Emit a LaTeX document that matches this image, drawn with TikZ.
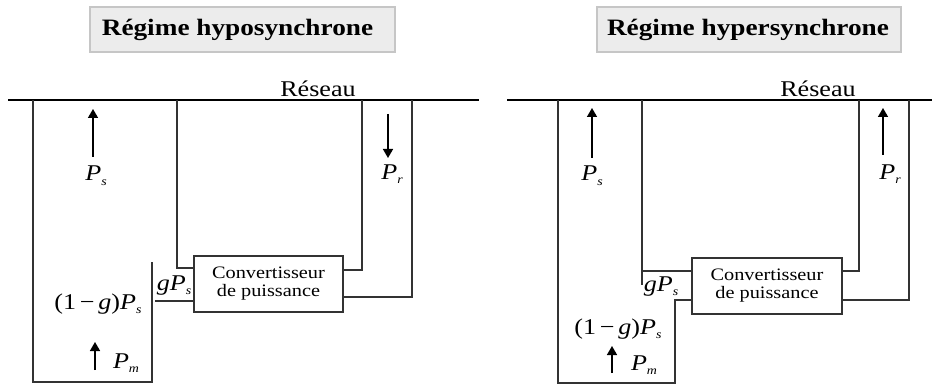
\documentclass[tikz,border=0pt]{standalone}
\usepackage{fontspec}
\setmainfont{Liberation Serif}[FakeStretch=1.16]
\usetikzlibrary{arrows.meta}
\newcommand\psub[1]{\raisebox{-0.45ex}{\fontsize{12}{12}\selectfont\itshape #1}}
\tikzset{
 wire/.style={line width=1.6pt, draw=black!80},
 gridline/.style={line width=1.8pt, draw=black},
 flow/.style={line width=1.5pt, draw=black, -{Triangle[width=10pt,length=9pt]}},
 titlebox/.style={draw=gray!45, line width=1.2pt, fill=gray!15, minimum width=305pt, minimum height=45pt, inner sep=0pt},
 titletext/.style={inner sep=0pt, font=\fontsize{23.5}{26}\selectfont\bfseries},
 conv/.style={draw=black!80, line width=1.6pt, minimum width=149pt, minimum height=56pt, inner sep=0pt, align=center, font=\fontsize{17.5}{18}\selectfont},
 lbl/.style={anchor=base, inner sep=0pt, font=\fontsize{22.5}{24}\selectfont},
 netlbl/.style={anchor=base, inner sep=0pt, font=\fontsize{22.5}{24}\selectfont}
}
\begin{document}
\begin{tikzpicture}[x=1pt,y=-1pt]
\useasboundingbox (0,0) rectangle (932,385);

% ================= LEFT: hyposynchrone =================
\node[titlebox] (tb1) at (242.5,29.5) {};
\node[titletext] (tt1) at (237.5,30) {Régime hyposynchrone};
\node[netlbl] (res1) at (318,97) {Réseau};
\coordinate (g1a) at (8,100);
\coordinate (g1b) at (479,100);
\draw[gridline] (g1a) -- (g1b);

\node[conv] (c1) at (268.5,284) {Convertisseur\\de puissance};

\coordinate (s1top) at (33,100);
\coordinate (s1bot) at (33,382);
\coordinate (m1bot) at (152,382);
\coordinate (m1top) at (152,262);
\draw[wire] (s1top) -- (s1bot) -- (m1bot) -- (m1top);

\coordinate (a1top) at (177,100);
\coordinate (a1lvl) at (0,268);
\draw[wire] (a1top) |- (c1.west |- a1lvl);

\coordinate (b1top) at (362,100);
\coordinate (b1lvl) at (0,270);
\draw[wire] (b1top) |- (c1.east |- b1lvl);

\coordinate (d1top) at (412,100);
\coordinate (d1lvl) at (0,297);
\draw[wire] (d1top) |- (c1.east |- d1lvl);

\coordinate (e1) at (155,301);
\draw[wire] (e1) -- (c1.west |- e1);

% arrows left
\coordinate (ps1a) at (93,157); \coordinate (ps1b) at (93,109);
\draw[flow] (ps1a) -- (ps1b);
\coordinate (pr1a) at (388,114); \coordinate (pr1b) at (388,158);
\draw[flow] (pr1a) -- (pr1b);
\coordinate (pm1a) at (95,370); \coordinate (pm1b) at (95,342);
\draw[flow] (pm1a) -- (pm1b);

\node[lbl] (lps1) at (96,181) {\itshape P\psub{s}};
\node[lbl] (lpr1) at (392,179) {\itshape P\psub{r}};
\node[lbl] (lgp1) at (174,290) {\itshape gP\psub{s}};
\node[lbl] (l1g1) at (98,309) {(1\,−\,\textit{g})\textit{P}\psub{s}};
\node[lbl] (lpm1) at (126,368) {\itshape P\psub{m}};

% ================= RIGHT: hypersynchrone =================
\node[titlebox, minimum width=304pt] (tb2) at (749,29.5) {};
\node[titletext] (tt2) at (748,30) {Régime hypersynchrone};
\node[netlbl] (res2) at (818,97) {Réseau};
\coordinate (g2a) at (507,100);
\coordinate (g2b) at (932,100);
\draw[gridline] (g2a) -- (g2b);

\node[conv, minimum width=150pt] (c2) at (767,286) {Convertisseur\\de puissance};

\coordinate (s2top) at (558,100);
\coordinate (s2bot) at (558,383);
\coordinate (m2bot) at (675,383);
\coordinate (m2lvl) at (675,300);
\draw[wire] (s2top) -- (s2bot) -- (m2bot) -- (m2lvl) -- (c2.west |- m2lvl);

\coordinate (a2top) at (642,100);
\coordinate (a2bot) at (642,285);
\coordinate (a2lvl) at (642,271);
\draw[wire] (a2top) -- (a2bot);
\draw[wire] (a2lvl) -- (c2.west |- a2lvl);

\coordinate (b2top) at (859,100);
\coordinate (b2lvl) at (0,271);
\draw[wire] (b2top) |- (c2.east |- b2lvl);

\coordinate (d2top) at (909,100);
\coordinate (d2lvl) at (0,300);
\draw[wire] (d2top) |- (c2.east |- d2lvl);

% arrows right
\coordinate (ps2a) at (592,158); \coordinate (ps2b) at (592,108);
\draw[flow] (ps2a) -- (ps2b);
\coordinate (pr2a) at (883,155); \coordinate (pr2b) at (883,108);
\draw[flow] (pr2a) -- (pr2b);
\coordinate (pm2a) at (612,373); \coordinate (pm2b) at (612,346);
\draw[flow] (pm2a) -- (pm2b);

\node[lbl] (lps2) at (592,181) {\itshape P\psub{s}};
\node[lbl] (lpr2) at (890,179) {\itshape P\psub{r}};
\node[lbl] (lgp2) at (661,291) {\itshape gP\psub{s}};
\node[lbl] (l1g2) at (618,334) {(1\,−\,\textit{g})\textit{P}\psub{s}};
\node[lbl] (lpm2) at (644,370) {\itshape P\psub{m}};
\end{tikzpicture}
\end{document}
